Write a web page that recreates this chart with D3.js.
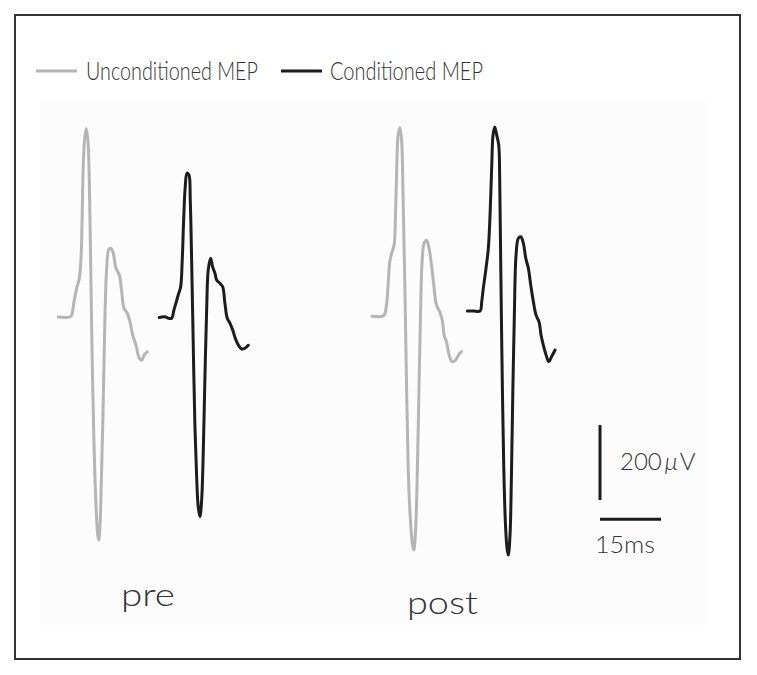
<!DOCTYPE html>
<html>
<head>
<meta charset="utf-8">
<script src="https://cdn.jsdelivr.net/npm/d3@7"></script>
<style>
  html, body { margin: 0; padding: 0; background: #ffffff; }
  svg { display: block; }
  text { font-family: Lato, "Open Sans", sans-serif; fill: #333333; }
</style>
</head>
<body>
<svg id="chart" width="757" height="675"></svg>
<script>
// ---------------- data ----------------
// legend / series names
const seriesNames = ["Unconditioned MEP", "Conditioned MEP"];
const conditionLabels = ["pre", "post"];

// Traces: time since trace onset (ms) and amplitude (µV) relative to baseline
const preUncondT = [0, 2.87, 3.29, 3.86, 4.52, 5.16, 5.58, 5.82, 6.14, 6.49, 6.88, 7.30, 7.62, 7.96, 8.28, 8.70, 9.19, 9.68, 9.93, 10.25, 10.57, 10.98, 11.47, 11.89, 12.38, 12.95, 13.51, 14.18, 14.99, 15.58, 16.14, 16.95, 17.62, 18.28, 19.09, 19.90, 20.49, 21.13, 21.87];
const preUncondV = [0, 0, 5, 41, 77, 103, 157, 245, 405, 477, 503, 467, 361, 139, -83, -306, -483, -581, -595, -555, -439, -261, 5, 130, 179, 183, 170, 130, 112, 67, 23, 10, -13, -48, -75, -110, -115, -101, -93];

const preCondT = [0, 1.40, 2.21, 3.05, 3.61, 4.10, 4.67, 5.26, 5.65, 6.00, 6.39, 6.81, 7.30, 7.62, 7.96, 8.35, 8.77, 9.19, 9.58, 10.00, 10.42, 10.81, 11.23, 11.65, 12.04, 12.63, 13.12, 13.69, 14.10, 14.91, 15.58, 16.14, 16.71, 17.37, 18.03, 18.67, 19.41, 20.25, 21.06, 21.87];
const preCondV = [0, 2, -2, -2, 20, 38, 60, 82, 153, 260, 349, 385, 380, 313, 153, -69, -291, -425, -505, -531, -487, -362, -158, 20, 127, 158, 135, 118, 100, 91, 82, 38, -2, -15, -33, -55, -73, -84, -82, -74];

const postUncondT = [0, 1.89, 2.95, 3.54, 3.93, 4.35, 4.91, 5.41, 5.75, 6.07, 6.39, 6.81, 7.22, 7.62, 8.03, 8.45, 8.85, 9.34, 9.93, 10.25, 10.66, 11.06, 11.47, 11.89, 12.29, 12.78, 13.37, 14.00, 14.59, 15.16, 15.82, 16.63, 17.30, 17.69, 18.28, 18.92, 19.66, 20.49, 21.38, 21.97];
const postUncondV = [0, -1, 3, 30, 83, 146, 172, 190, 270, 403, 483, 503, 475, 315, 92, -174, -397, -530, -610, -623, -574, -441, -219, 3, 146, 195, 203, 181, 137, 83, 30, 12, -14, -50, -68, -103, -121, -117, -101, -94];

const postCondT = [0, 1.47, 3.12, 3.54, 3.93, 4.59, 5.16, 5.58, 6.00, 6.31, 6.73, 7.22, 7.71, 7.96, 8.21, 8.53, 8.94, 9.34, 9.75, 10.07, 10.49, 10.81, 11.15, 11.55, 11.97, 12.53, 13.12, 13.76, 14.35, 14.99, 15.58, 16.22, 16.88, 17.62, 18.11, 18.67, 19.34, 20.00, 20.74, 21.55];
const postCondV = [0, 0, 0, 25, 61, 114, 167, 256, 389, 469, 491, 469, 443, 345, 123, -144, -411, -562, -633, -651, -597, -455, -233, -11, 149, 194, 198, 181, 141, 114, 69, 25, -11, -29, -64, -91, -117, -135, -121, -104];

// onset of each sweep on the common time axis (ms) and its baseline offset (µV)
const traceOnsetMs = [0, 24.8, 77.1, 100.5];
const traceBaselineUV = [0, -1.3, 1.9, 16];

// calibration bars
const scaleBarUV = 200;
const scaleBarMs = 15;
const scaleBarLabels = ["200\u2009", "\u03BC", "V"];
const timeBarLabel = "15ms";

// ---------------- drawing ----------------
const svg = d3.select("#chart");

const x = d3.scaleLinear().domain([0, 160]).range([58.3, 58.3 + 160 * 4.07]);
const y = d3.scaleLinear().domain([-700, 600]).range([317 + 700 * 0.375, 317 - 600 * 0.375]);

// frame and panel
svg.append("rect").attr("x", 40).attr("y", 98).attr("width", 666).attr("height", 528)
  .attr("fill", "#fcfcfc");
svg.append("rect").attr("x", 15).attr("y", 15).attr("width", 725).attr("height", 644)
  .attr("fill", "none").attr("stroke", "#333333").attr("stroke-width", 2);

const colors = ["#b5b5b5", "#1c1c1c"];

const traces = [
  { t: preUncondT, v: preUncondV, s: 0 },
  { t: preCondT, v: preCondV, s: 1 },
  { t: postUncondT, v: postUncondV, s: 0 },
  { t: postCondT, v: postCondV, s: 1 }
];

const line = d3.line().curve(d3.curveCatmullRom.alpha(0.5));

traces.forEach((tr, i) => {
  const pts = tr.t.map((t, k) => [x(traceOnsetMs[i] + t), y(traceBaselineUV[i] + tr.v[k])]);
  svg.append("path")
    .attr("d", line(pts))
    .attr("fill", "none")
    .attr("stroke", colors[tr.s])
    .attr("stroke-width", 3)
    .attr("stroke-linejoin", "round")
    .attr("stroke-linecap", "round");
});

// legend
const legendItems = [
  { x0: 36, x1: 77, tx: 86, w: 172 },
  { x0: 281, x1: 322, tx: 330, w: 153 }
];
legendItems.forEach((it, i) => {
  svg.append("line").attr("x1", it.x0).attr("x2", it.x1).attr("y1", 71).attr("y2", 71)
    .attr("stroke", colors[i]).attr("stroke-width", 3);
  svg.append("text").attr("x", it.tx).attr("y", 80)
    .attr("font-size", 25).attr("font-weight", 300)
    .attr("textLength", it.w).attr("lengthAdjust", "spacingAndGlyphs")
    .text(seriesNames[i]);
});

// condition labels
svg.append("text").attr("x", 121).attr("y", 606).attr("font-size", 32).attr("font-weight", 300)
  .attr("textLength", 54).attr("lengthAdjust", "spacingAndGlyphs").text(conditionLabels[0]);
svg.append("text").attr("x", 407).attr("y", 614).attr("font-size", 32).attr("font-weight", 300)
  .attr("textLength", 71).attr("lengthAdjust", "spacingAndGlyphs").text(conditionLabels[1]);

// calibration bars
const barT = 133.1;
const barV0 = -288;
svg.append("line")
  .attr("x1", x(barT)).attr("x2", x(barT))
  .attr("y1", y(barV0)).attr("y2", y(barV0 - scaleBarUV))
  .attr("stroke", "#1c1c1c").attr("stroke-width", 3);
svg.append("line")
  .attr("x1", x(barT)).attr("x2", x(barT + scaleBarMs))
  .attr("y1", y(-539)).attr("y2", y(-539))
  .attr("stroke", "#1c1c1c").attr("stroke-width", 3);

const uvText = svg.append("text").attr("x", 620).attr("y", 470).attr("font-size", 24).attr("font-weight", 300);
uvText.append("tspan").text(scaleBarLabels[0]);
uvText.append("tspan").attr("font-style", "italic").text(scaleBarLabels[1]);
uvText.append("tspan").attr("dx", 2).text(scaleBarLabels[2]);

svg.append("text").attr("x", 595).attr("y", 553).attr("font-size", 24).attr("font-weight", 300)
  .attr("textLength", 60).attr("lengthAdjust", "spacingAndGlyphs").text(timeBarLabel);
</script>
</body>
</html>
